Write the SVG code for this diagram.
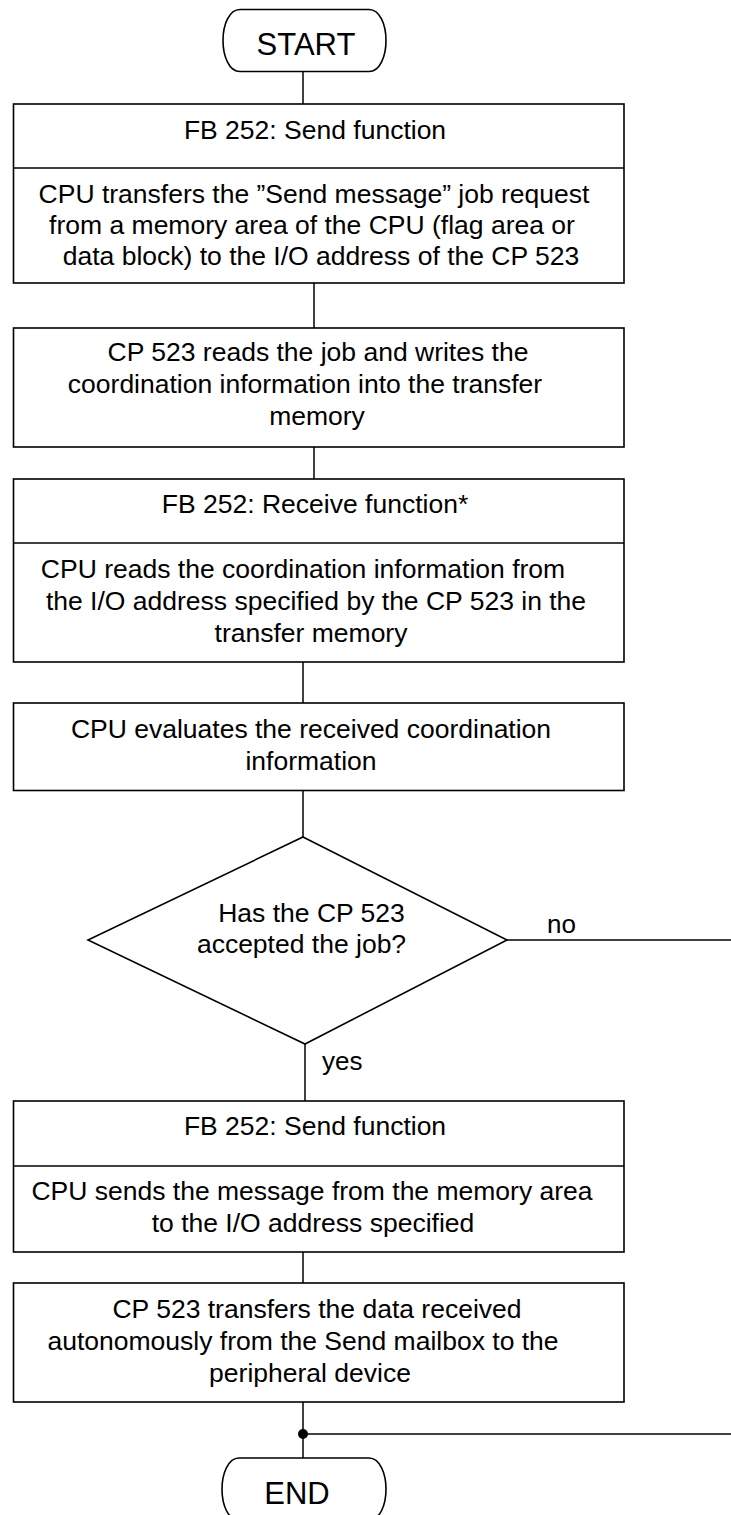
<svg xmlns="http://www.w3.org/2000/svg" width="731" height="1515" viewBox="0 0 731 1515">
<style>
.box{fill:#fff;stroke:#000;stroke-width:1.6}
.ln{fill:none;stroke:#000;stroke-width:1.5}
.t{font-family:"Liberation Sans",Arial,sans-serif;font-size:26.5px;fill:#000;text-anchor:middle}
.tb{font-family:"Liberation Sans",Arial,sans-serif;font-size:31px;fill:#000;text-anchor:middle}
.lab{font-family:"Liberation Sans",Arial,sans-serif;font-size:26px;fill:#000}
</style>
<rect width="731" height="1515" fill="#fff"/>
<g id="connectors">
<line class="ln" x1="303" y1="71.5" x2="303" y2="104"/>
<line class="ln" x1="314" y1="283" x2="314" y2="328"/>
<line class="ln" x1="314" y1="447" x2="314" y2="479"/>
<line class="ln" x1="303" y1="662" x2="303" y2="703"/>
<line class="ln" x1="303" y1="790.5" x2="303" y2="837"/>
<line class="ln" x1="305" y1="1044" x2="305" y2="1101"/>
<line class="ln" x1="507" y1="940" x2="731" y2="940"/>
<line class="ln" x1="303" y1="1252" x2="303" y2="1283"/>
<line class="ln" x1="303" y1="1402" x2="303" y2="1458"/>
<line class="ln" x1="303" y1="1434" x2="731" y2="1434"/>
<circle cx="303" cy="1434" r="5" fill="#000"/>
<text class="lab" x="547" y="933">no</text>
<text class="lab" x="322" y="1070">yes</text>
</g>
<g id="start">
<path class="box" d="M240,9.5 H369 C380,9.5 386,25 386,40.5 C386,56 380,71.5 369,71.5 H240 C229,71.5 223,56 223,40.5 C223,25 229,9.5 240,9.5 Z"/>
<text class="tb" x="306" y="55">START</text>
</g>
<g id="send1">
<rect class="box" x="13.5" y="104" width="610.5" height="179"/>
<line class="box" x1="13.5" y1="168" x2="624" y2="168"/>
<text class="t" x="315" y="138.5">FB 252: Send function</text>
<text class="t" x="314" y="203">CPU transfers the ”Send message” job request</text>
<text class="t" x="312" y="234">from a memory area of the CPU (flag area or</text>
<text class="t" x="321" y="265">data block) to the I/O address of the CP 523</text>
</g>
<g id="cpread">
<rect class="box" x="13.5" y="328" width="610.5" height="119"/>
<text class="t" x="318" y="361">CP 523 reads the job and writes the</text>
<text class="t" x="305" y="393">coordination information into the transfer</text>
<text class="t" x="317" y="425">memory</text>
</g>
<g id="receive">
<rect class="box" x="13.5" y="479" width="610.5" height="183"/>
<line class="box" x1="13.5" y1="543" x2="624" y2="543"/>
<text class="t" x="315" y="513">FB 252: Receive function*</text>
<text class="t" x="303" y="578">CPU reads the coordination information from</text>
<text class="t" x="316" y="610">the I/O address specified by the CP 523 in the</text>
<text class="t" x="311" y="642">transfer memory</text>
</g>
<g id="evaluate">
<rect class="box" x="13.5" y="703" width="610.5" height="87.5"/>
<text class="t" x="311" y="738">CPU evaluates the received coordination</text>
<text class="t" x="311" y="770">information</text>
</g>
<g id="decision">
<polygon class="box" points="303,837 507,940 305,1044 88,940"/>
<text class="t" x="311.5" y="922">Has the CP 523</text>
<text class="t" x="301.5" y="953">accepted the job?</text>
</g>
<g id="send2">
<rect class="box" x="13.5" y="1101" width="610.5" height="151"/>
<line class="box" x1="13.5" y1="1166" x2="624" y2="1166"/>
<text class="t" x="315" y="1135">FB 252: Send function</text>
<text class="t" x="312" y="1200">CPU sends the message from the memory area</text>
<text class="t" x="313" y="1232">to the I/O address specified</text>
</g>
<g id="transfer">
<rect class="box" x="13.5" y="1283" width="610.5" height="119"/>
<text class="t" x="317" y="1318">CP 523 transfers the data received</text>
<text class="t" x="303" y="1350">autonomously from the Send mailbox to the</text>
<text class="t" x="310" y="1382">peripheral device</text>
</g>
<g id="end">
<path class="box" d="M239,1458 H369 C380,1458 386,1474 386,1489 C386,1505 380,1520 369,1520 H239 C228,1520 222,1505 222,1489 C222,1474 228,1458 239,1458 Z"/>
<text class="tb" x="297" y="1504">END</text>
</g>
</svg>
